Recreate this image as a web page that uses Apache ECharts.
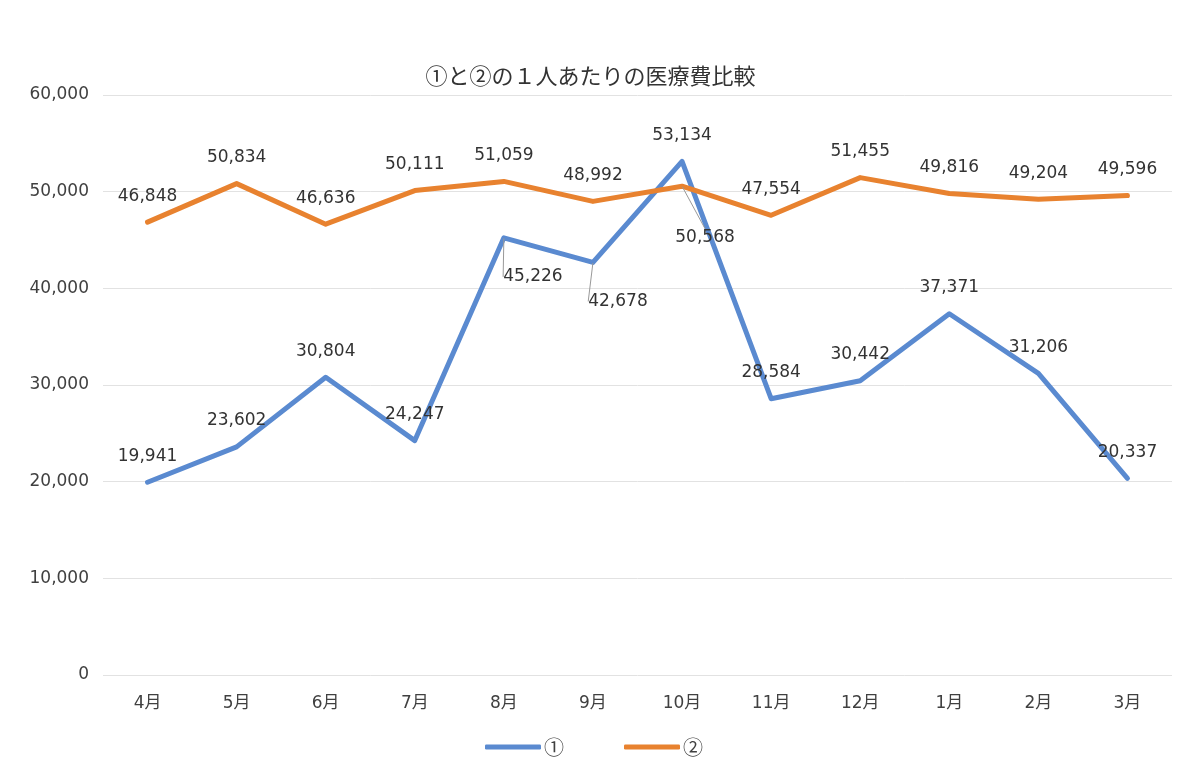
<!DOCTYPE html>
<html>
<head>
<meta charset="utf-8">
<script src="https://cdn.jsdelivr.net/npm/echarts@6/dist/echarts.min.js"></script>
<style>
  html, body { margin: 0; padding: 0; background: #fff; }
  #chart { width: 1181px; height: 779px; }
</style>
</head>
<body>
<div id="chart"></div>
<script>
// 月
var months = ["4月", "5月", "6月", "7月", "8月", "9月", "10月", "11月", "12月", "1月", "2月", "3月"];
// ①
var seriesOne = [19941, 23602, 30804, 24247, 45226, 42678, 53134, 28584, 30442, 37371, 31206, 20337];
// ②
var seriesTwo = [46848, 50834, 46636, 50111, 51059, 48992, 50568, 47554, 51455, 49816, 49204, 49596];
var yTicks = [0, 10000, 20000, 30000, 40000, 50000, 60000];

// ラベルをずらす点（引き出し線つき）
var moveOne = { 4: [29, 65], 5: [25, 65] };
var moveTwo = { 6: [23, 77] };

function fmt(v) {
  return String(v).replace(/\B(?=(\d{3})+(?!\d))/g, ",");
}

var font = "'DejaVu Sans', 'Noto Sans CJK JP', sans-serif";
var jpFont = "'Noto Sans CJK JP', sans-serif";

function toItems(arr, moved) {
  return arr.map(function (v, i) {
    return { value: v, labelLine: { show: !!moved[i] } };
  });
}

function lineSeries(name, arr, moved, color) {
  return {
    name: name,
    type: "line",
    data: toItems(arr, moved),
    symbol: "circle",
    symbolSize: 1,
    color: color,
    lineStyle: { width: 5, color: color, cap: "round", join: "round" },
    label: {
      show: true,
      position: "top",
      distance: 17,
      fontSize: 17,
      color: "#333",
      fontFamily: font,
      formatter: function (p) { return fmt(p.value); }
    },
    labelLine: { show: false, lineStyle: { color: "#999", width: 1 } },
    labelLayout: function (p) {
      var m = moved[p.dataIndex];
      return m ? { dx: m[0], dy: m[1] } : {};
    }
  };
}

var option = {
  backgroundColor: "#fff",
  animation: false,
  title: {
    text: "①と②の１人あたりの医療費比較",
    left: "center",
    top: 60,
    textStyle: { fontSize: 22, fontWeight: "normal", color: "#333", fontFamily: jpFont }
  },
  legend: {
    bottom: 17,
    left: 480,
    icon: "roundRect",
    itemWidth: 56,
    itemHeight: 5,
    itemGap: 60,
    textStyle: { fontSize: 20, color: "#404040", fontFamily: jpFont, padding: [0, 0, 0, -2] },
    data: ["①", "②"]
  },
  grid: { left: 103, right: 9, top: 95, bottom: 104 },
  xAxis: {
    type: "category",
    data: months,
    axisLine: { show: false },
    axisTick: { show: false },
    axisLabel: { margin: 20, fontSize: 17, color: "#404040", fontFamily: font }
  },
  yAxis: {
    type: "value",
    min: yTicks[0],
    max: yTicks[yTicks.length - 1],
    interval: 10000,
    axisLine: { show: false },
    axisTick: { show: false },
    splitLine: { lineStyle: { color: "#e2e2e2", width: 1 } },
    axisLabel: {
      margin: 14,
      fontSize: 17,
      color: "#404040",
      fontFamily: font,
      formatter: function (v) { return fmt(v); }
    }
  },
  series: [
    lineSeries("①", seriesOne, moveOne, "#5a8ad0"),
    lineSeries("②", seriesTwo, moveTwo, "#e8822f")
  ]
};

var myChart = echarts.init(document.getElementById("chart"));
myChart.setOption(option);
window.addEventListener("resize", function () {
  myChart.resize();
});
</script>
</body>
</html>
